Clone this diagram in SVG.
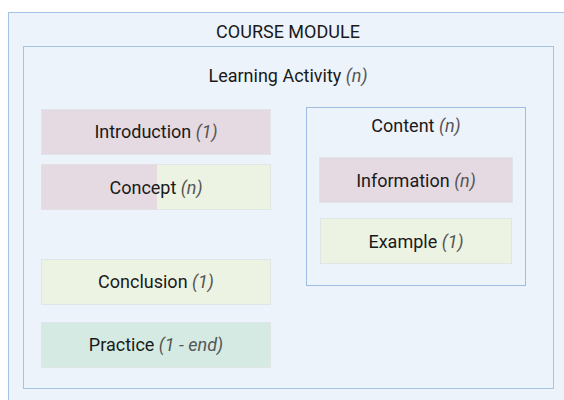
<svg xmlns="http://www.w3.org/2000/svg" width="564" height="400" viewBox="0 0 564 400">
<style>
  text { font-family: Roboto, "Liberation Sans", sans-serif; font-size: 18px; fill: #1a1a1a; text-anchor: middle; }
  .n { font-style: italic; fill: #555; }
  .frame { fill: #edf3fa; stroke: #a7c3e4; stroke-width: 1; }
  .pink { fill: #e6dae2; stroke: #e0e3e8; stroke-width: 1; }
  .green { fill: #ecf3e3; stroke: #e0e6e6; stroke-width: 1; }
  .teal { fill: #d4eae3; stroke: #e0e6e8; stroke-width: 1; }
</style>
<rect width="564" height="400" fill="#ffffff"/>
<g id="course-module">
  <rect class="frame" x="8.5" y="12.5" width="570" height="400"/>
  <text x="288" y="38">COURSE MODULE</text>
</g>
<g id="learning-activity">
  <rect class="frame" x="23.5" y="46.5" width="530" height="342"/>
  <text x="288" y="82">Learning Activity <tspan class="n">(n)</tspan></text>
</g>
<g id="introduction">
  <rect class="pink" x="41.5" y="109.5" width="229" height="45"/>
  <text x="156" y="138">Introduction <tspan class="n">(1)</tspan></text>
</g>
<g id="concept">
  <rect class="green" x="41.5" y="164.5" width="229" height="45"/>
  <rect fill="#e6dae2" x="41.5" y="164.5" width="115.5" height="45"/>
  <text x="156" y="194">Concept <tspan class="n">(n)</tspan></text>
</g>
<g id="conclusion">
  <rect class="green" x="41.5" y="259.5" width="229" height="45"/>
  <text x="156" y="288">Conclusion <tspan class="n">(1)</tspan></text>
</g>
<g id="practice">
  <rect class="teal" x="41.5" y="322.5" width="229" height="45"/>
  <text x="156" y="351">Practice <tspan class="n">(1 - end)</tspan></text>
</g>
<g id="content">
  <rect fill="#edf3fa" stroke="#9fbde3" x="306.5" y="107.5" width="219" height="178"/>
  <text x="416" y="132">Content <tspan class="n">(n)</tspan></text>
</g>
<g id="information">
  <rect class="pink" x="319.5" y="157.5" width="193" height="45"/>
  <text x="416" y="187">Information <tspan class="n">(n)</tspan></text>
</g>
<g id="example">
  <rect class="green" x="320.5" y="218.5" width="191" height="45"/>
  <text x="416" y="248">Example <tspan class="n">(1)</tspan></text>
</g>
<g id="connectors"></g>
</svg>
